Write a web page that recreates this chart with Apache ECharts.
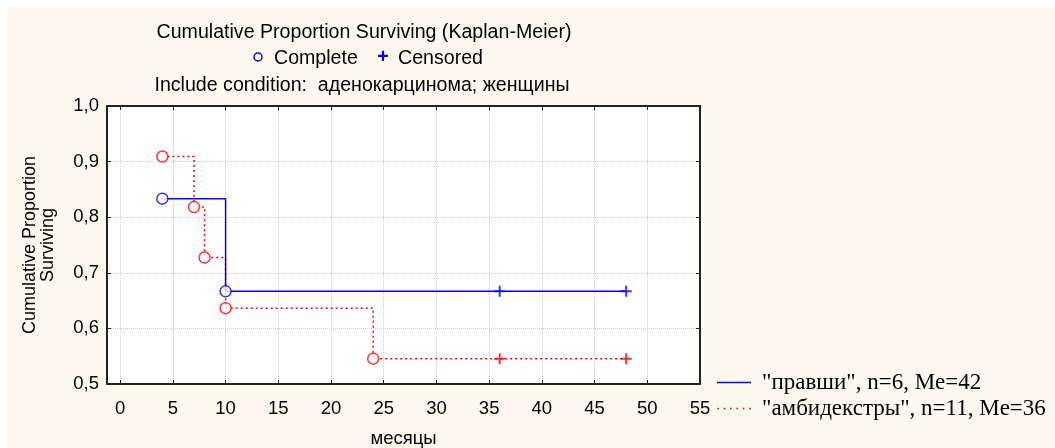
<!DOCTYPE html>
<html>
<head>
<meta charset="utf-8">
<script src="https://cdn.jsdelivr.net/npm/echarts@6/dist/echarts.min.js"></script>
<style>
html,body{margin:0;padding:0;background:#fff;}
#wrap{position:relative;width:1055px;height:448px;background:#fff;overflow:hidden;}
#bg{position:absolute;left:7px;top:7px;right:0;bottom:0;background:#fdf9ee;}
#chart{position:absolute;left:0;top:0;width:1055px;height:448px;}
</style>
</head>
<body>
<div id="wrap"><div id="bg"></div><div id="chart"></div></div>
<script>
// ---- data ----
const titleLines = ['Cumulative Proportion Surviving (Kaplan-Meier)', 'Include condition:  аденокарцинома; женщины'];
const markerLabels = ['Complete', 'Censored'];
const xTicks = [0, 5, 10, 15, 20, 25, 30, 35, 40, 45, 50, 55];
const xName = 'месяцы';
const yName = 'Cumulative Proportion\nSurviving';

const group1Name = '"правши", n=6, Me=42';
const group1Times = [4, 10, 36, 48];
const group1Surv = [0.8333, 0.6667, 0.6667, 0.6667];
const group1Censored = [0, 0, 1, 1];

const group2Name = '"амбидекстры", n=11, Me=36';
const group2Times = [4, 7, 8, 10, 24, 36, 48];
const group2Surv = [0.9091, 0.8182, 0.7273, 0.6364, 0.5455, 0.5455, 0.5455];
const group2Censored = [0, 0, 0, 0, 0, 1, 1];

// ---- build ----
const BLUE = '#0000ff', RED = '#ff0000';
const PLUS = 'path://M5 0 L5 10 M0 5 L10 5';
const ICON_SOLID = 'path://M0 0h34v1.6h-34z';
const ICON_DOTTED = 'path://M0 0h1.6v1.6h-1.6z M6.4 0h1.6v1.6h-1.6z M12.8 0h1.6v1.6h-1.6z M19.2 0h1.6v1.6h-1.6z M25.6 0h1.6v1.6h-1.6z M32 0h1.6v1.6h-1.6z';
function pts(t, s) { return t.map((x, i) => [x, s[i]]); }
function pick(t, s, c, flag) { return t.map((x, i) => [x, s[i], c[i]]).filter(d => d[2] === flag).map(d => [d[0], d[1]]); }

const sans = 'Liberation Sans, Arial, sans-serif';
const serif = 'Liberation Serif, Times New Roman, serif';
const chart = echarts.init(document.getElementById('chart'), null, {renderer: 'canvas'});

const xBase = {
  type: 'value', min: -1.25, max: 55,
  axisLine: {show: true, onZero: false, lineStyle: {color: '#222', width: 2}},
  axisTick: {show: true, inside: true, length: 4, customValues: xTicks, lineStyle: {color: '#222', width: 1}},
  splitLine: {show: false},
};
const yBase = {
  type: 'value', min: 0.5, max: 1.0, interval: 0.1,
  axisLine: {show: true, onZero: false, lineStyle: {color: '#222', width: 2}},
  axisTick: {show: true, inside: true, length: 4, lineStyle: {color: '#222', width: 1}},
  splitLine: {show: false},
};
const HF = 19.6;

const option = {
  animation: false,
  backgroundColor: 'transparent',
  textStyle: {fontFamily: sans},
  grid: {left: 107, top: 106, right: 355, bottom: 64, show: true, backgroundColor: '#ffffff', borderWidth: 0,
    containLabel: false, outerBoundsMode: 'none'},
  xAxis: [
    Object.assign({}, xBase, {
      position: 'bottom',
      axisLabel: {show: true, customValues: xTicks, margin: 15, fontSize: 18.5, color: '#000', fontFamily: sans},
      splitLine: {show: true, lineStyle: {color: '#cfcfcf', type: 'dotted', width: 1}},
      name: xName, nameLocation: 'middle', nameGap: 45,
      nameTextStyle: {fontSize: 18.5, color: '#000', fontFamily: sans}
    }),
    Object.assign({}, xBase, {position: 'top', axisLabel: {show: false}})
  ],
  yAxis: [
    Object.assign({}, yBase, {
      position: 'left',
      axisLabel: {show: true, margin: 8, fontSize: 18.5, color: '#000', fontFamily: sans,
        formatter: v => v.toFixed(1).replace('.', ',')},
      splitLine: {show: true, lineStyle: {color: '#cfcfcf', type: 'dotted', width: 1}},
      name: yName, nameLocation: 'middle', nameGap: 50, nameRotate: 90,
      nameTextStyle: {fontSize: 18, lineHeight: 18, color: '#000', fontFamily: sans, align: 'center'}
    }),
    Object.assign({}, yBase, {position: 'right', axisLabel: {show: false}})
  ],
  legend: {
    orient: 'vertical', left: 712, top: 366, itemWidth: 34, itemHeight: 1.6, itemGap: 3,
    data: [
      {name: group1Name, icon: ICON_SOLID, itemStyle: {color: BLUE}},
      {name: group2Name, icon: ICON_DOTTED, itemStyle: {color: RED}}
    ],
    textStyle: {fontFamily: serif, fontSize: 23, color: '#000', lineHeight: 22, padding: [0, 0, 0, 6]}
  },
  graphic: [
    {type: 'text', x: 364, y: 33, style: {text: titleLines[0], fontSize: HF, fontFamily: sans, fill: '#000', align: 'center', verticalAlign: 'middle'}},
    {type: 'circle', shape: {cx: 258, cy: 57, r: 4}, style: {fill: 'none', stroke: BLUE, lineWidth: 1.5}},
    {type: 'text', x: 274, y: 59, style: {text: markerLabels[0], fontSize: HF, fontFamily: sans, fill: '#000', align: 'left', verticalAlign: 'middle'}},
    {type: 'text', x: 383, y: 58, style: {text: '+', fontSize: HF, fontWeight: 'bold', fontFamily: sans, fill: BLUE, align: 'center', verticalAlign: 'middle'}},
    {type: 'text', x: 398, y: 59, style: {text: markerLabels[1], fontSize: HF, fontFamily: sans, fill: '#000', align: 'left', verticalAlign: 'middle'}},
    {type: 'text', x: 362, y: 86, style: {text: titleLines[1], fontSize: HF, fontFamily: sans, fill: '#000', align: 'center', verticalAlign: 'middle'}}
  ],
  series: [
    {name: group1Name, type: 'line', step: 'end', data: pts(group1Times, group1Surv), symbol: 'none',
      lineStyle: {color: BLUE, width: 1.5, type: 'solid'}, itemStyle: {color: BLUE}, z: 3},
    {name: group2Name, type: 'line', step: 'end', data: pts(group2Times, group2Surv), symbol: 'none',
      lineStyle: {color: RED, width: 1.5, type: [2, 3]}, itemStyle: {color: RED}, z: 2},
    {name: 'c2', type: 'scatter', data: pick(group2Times, group2Surv, group2Censored, 0), symbol: 'circle', symbolSize: 11,
      itemStyle: {color: '#fff', borderColor: RED, borderWidth: 1.5}, z: 4},
    {name: 'x2', type: 'scatter', data: pick(group2Times, group2Surv, group2Censored, 1), symbol: PLUS, symbolSize: 11,
      itemStyle: {color: 'none', borderColor: RED, borderWidth: 2}, z: 4},
    {name: 'c1', type: 'scatter', data: pick(group1Times, group1Surv, group1Censored, 0), symbol: 'circle', symbolSize: 11,
      itemStyle: {color: '#fff', borderColor: BLUE, borderWidth: 1.5}, z: 5},
    {name: 'x1', type: 'scatter', data: pick(group1Times, group1Surv, group1Censored, 1), symbol: PLUS, symbolSize: 11,
      itemStyle: {color: 'none', borderColor: BLUE, borderWidth: 2}, z: 5}
  ]
};
chart.setOption(option);
</script>
</body>
</html>
